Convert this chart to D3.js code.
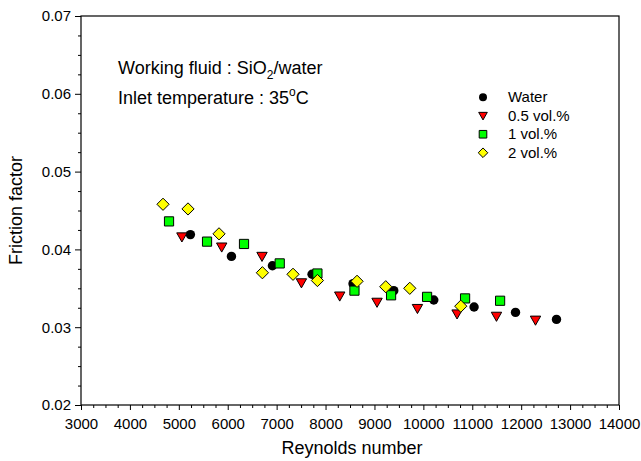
<!DOCTYPE html>
<html>
<head>
<meta charset="utf-8">
<script src="https://cdn.jsdelivr.net/npm/d3@7"></script>
<style>
  body { margin: 0; background: #fff; }
  text { font-family: Arial, "Liberation Sans", sans-serif; fill: #000; }
</style>
</head>
<body>
<svg id="chart" width="641" height="461"></svg>
<script>
// Friction factor vs Reynolds number, SiO2/water nanofluid, inlet 35 °C
const reWater = [5237, 6076, 6914, 7724, 8562, 9395, 10213, 11037, 11884, 12722];
const fWater  = [0.0419, 0.0391, 0.0379, 0.0368, 0.0356, 0.0347, 0.0335, 0.0326, 0.0319, 0.0310];

const reVol05 = [5063, 5877, 6701, 7507, 8290, 9053, 9879, 10689, 11495, 12293];
const fVol05  = [0.0416, 0.0403, 0.0391, 0.0357, 0.0340, 0.0332, 0.0324, 0.0317, 0.0314, 0.0309];

const reVol1 = [4800, 5577, 6333, 7063, 7834, 8591, 9340, 10076, 10853, 11569];
const fVol1  = [0.0436, 0.0410, 0.0407, 0.0382, 0.0369, 0.0347, 0.0341, 0.0339, 0.0337, 0.0334];

const reVol2 = [4677, 5188, 5822, 6709, 7335, 7834, 8644, 9231, 9722, 10765];
const fVol2  = [0.0458, 0.0452, 0.0420, 0.0370, 0.0368, 0.0360, 0.0359, 0.0352, 0.0350, 0.0327];

const seriesNames = ["Water", "0.5 vol.%", "1 vol.%", "2 vol.%"];
const xTicks = [3000, 4000, 5000, 6000, 7000, 8000, 9000, 10000, 11000, 12000, 13000, 14000];
const yTicks = [0.02, 0.03, 0.04, 0.05, 0.06, 0.07];

const svg = d3.select("#chart");
const L = 81, R = 619, T = 16, B = 405;

const x = d3.scaleLinear().domain([3000, 14000]).range([L, R]);
const y = d3.scaleLinear().domain([0.02, 0.07]).range([B, T]);

// marker outlines centred on 0,0
function markerPath(shape, s) {
  switch (shape) {
    case "circle":   return `M${s},0A${s},${s} 0 1,1 ${-s},0A${s},${s} 0 1,1 ${s},0Z`;
    case "triangle": return `M${-s * 1.08},${-s * 0.85}L${s * 1.08},${-s * 0.85}L0,${s * 1.05}Z`;
    case "square":   return `M${-s},${-s}H${s}V${s}H${-s}Z`;
    case "diamond":  return `M0,${-s * 1.3}L${s * 1.3},0L0,${s * 1.3}L${-s * 1.3},0Z`;
  }
}

const series = [
  { name: seriesNames[0], re: reWater, f: fWater, shape: "circle",   fill: "#000000", stroke: "none" },
  { name: seriesNames[1], re: reVol05, f: fVol05, shape: "triangle", fill: "#ff0000", stroke: "#000" },
  { name: seriesNames[2], re: reVol1,  f: fVol1,  shape: "square",   fill: "#00ff00", stroke: "#000" },
  { name: seriesNames[3], re: reVol2,  f: fVol2,  shape: "diamond",  fill: "#ffff00", stroke: "#000" }
];

// frame
svg.append("rect")
  .attr("x", L).attr("y", T).attr("width", R - L).attr("height", B - T)
  .attr("fill", "none").attr("stroke", "#000").attr("stroke-width", 1.2);

// x axis: major + minor ticks, outward
const xMinor = d3.range(3000, 14001, 250).filter(v => v % 1000 !== 0);
svg.append("g").attr("transform", `translate(0,${B})`)
  .call(d3.axisBottom(x).tickValues(xMinor).tickSize(3).tickFormat(""))
  .call(g => g.select(".domain").remove());
const gx = svg.append("g").attr("transform", `translate(0,${B})`)
  .call(d3.axisBottom(x).tickValues(xTicks).tickSize(5).tickPadding(8).tickFormat(d3.format("d")));
gx.select(".domain").remove();
gx.selectAll("text").attr("font-size", 15).attr("font-family", "Arial, 'Liberation Sans', sans-serif");

// y axis: major + minor ticks, outward
const yMinor = d3.range(0, 21).map(i => 0.02 + i * 0.0025).filter((v, i) => i % 4 !== 0);
svg.append("g").attr("transform", `translate(${L},0)`)
  .call(d3.axisLeft(y).tickValues(yMinor).tickSize(3).tickFormat(""))
  .call(g => g.select(".domain").remove());
const gy = svg.append("g").attr("transform", `translate(${L},0)`)
  .call(d3.axisLeft(y).tickValues(yTicks).tickSize(6).tickPadding(4).tickFormat(d3.format(".2f")));
gy.select(".domain").remove();
gy.selectAll("text").attr("font-size", 15).attr("font-family", "Arial, 'Liberation Sans', sans-serif");
svg.selectAll(".tick line").attr("stroke", "#000").attr("stroke-width", 1);

// axis titles
svg.append("text").attr("x", (L + R) / 2 + 2).attr("y", 454)
  .attr("text-anchor", "middle").attr("font-size", 18).text("Reynolds number");
svg.append("text").attr("transform", `translate(22,${(T + B) / 2}) rotate(-90)`)
  .attr("text-anchor", "middle").attr("font-size", 18).text("Friction factor");

// data markers
const sizes = { circle: 4.7, triangle: 4.8, square: 4.6, diamond: 4.7 };
series.forEach(s => {
  svg.append("g").selectAll("path")
    .data(s.re.map((r, i) => ({ r, f: s.f[i] })))
    .join("path")
    .attr("d", markerPath(s.shape, sizes[s.shape]))
    .attr("transform", d => `translate(${x(d.r)},${y(d.f)})`)
    .attr("fill", s.fill)
    .attr("stroke", s.stroke)
    .attr("stroke-width", 1);
});

// annotation
const ann = svg.append("g").attr("font-size", 18);
const t1 = ann.append("text").attr("x", 118).attr("y", 74);
t1.append("tspan").text("Working fluid : SiO");
t1.append("tspan").attr("font-size", 12).attr("dy", 5).text("2");
t1.append("tspan").attr("dy", -5).text("/water");
const t2 = ann.append("text").attr("x", 118).attr("y", 104);
t2.append("tspan").text("Inlet temperature : 35");
t2.append("tspan").attr("font-size", 12).attr("dy", -8).text("o");
t2.append("tspan").attr("dy", 8).text("C");

// legend
const legend = svg.append("g");
const legendY = d3.scaleBand().domain(seriesNames).range([88, 162]);
const legSizes = { circle: 4, triangle: 4, square: 3.8, diamond: 3.7 };
series.forEach(s => {
  const cy = legendY(s.name) + legendY.bandwidth() / 2;
  legend.append("path")
    .attr("d", markerPath(s.shape, legSizes[s.shape]))
    .attr("transform", `translate(483,${cy})`)
    .attr("fill", s.fill).attr("stroke", s.stroke).attr("stroke-width", 1);
  legend.append("text").attr("x", 508).attr("y", cy + 5)
    .attr("font-size", 15).text(s.name);
});
</script>
</body>
</html>
